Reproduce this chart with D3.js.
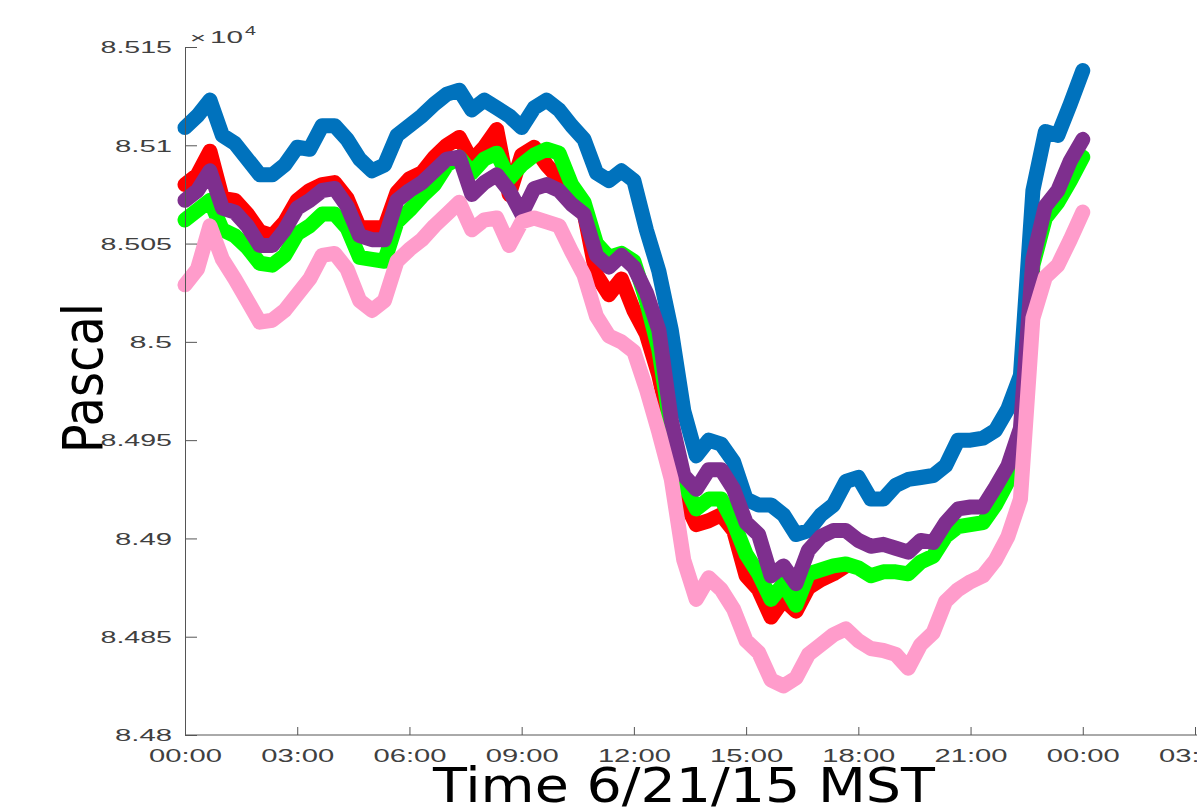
<!DOCTYPE html>
<html>
<head>
<meta charset="utf-8">
<script src="https://cdn.jsdelivr.net/npm/d3@7"></script>
<style>
  body { margin: 0; background: #fff; }
  svg { display: block; }
  .axis path, .axis line { stroke: #555; stroke-width: 1; }
  .axis text { font-family: "Liberation Sans", Arial, sans-serif; fill: #404040; }
  .series { fill: none; stroke-linejoin: round; stroke-linecap: round; }
</style>
</head>
<body>
<div id="chart"></div>
<script>
// readings every 20 minutes from 00:00 to 24:00, pressure in Pa
var hours = d3.range(0, 73).map(function(i) { return i / 3; });

var blue = [85109,85115,85123,85105,85101,85093,85085,85085,85090,85099,
    85098,85110,85110,85103,85093,85087,85090,85105,85110,85115,
    85121,85126,85128,85118,85123,85119,85115,85109,85119,85123,
    85118,85110,85103,85086,85082,85087,85082,85057,85036,85006,
    84965,84942,84950,84948,84939,84920,84917,84917,84912,84902,
    84904,84912,84917,84929,84931,84920,84920,84927,84930,84931,
    84932,84937,84950,84950,84951,84955,84966,84983,85077,85107,
    85105,85121,85138];

// the red logger is hidden under the green one after ~18:00
var red = [85080,85085,85097,85073,85072,85065,85056,85054,85061,85072,
    85077,85080,85081,85073,85058,85058,85058,85076,85083,85086,
    85094,85100,85104,85092,85099,85108,85075,85095,85099,85090,
    85083,85072,85066,85034,85024,85032,85016,85004,84983,84954,
    84920,84907,84909,84912,84904,84881,84874,84860,84869,84863,
    84875,84879,84882,84886];

var green = [85062,85067,85072,85057,85054,85048,85040,85039,85044,85055,
    85059,85065,85065,85058,85043,85042,85041,85061,85067,85074,
    85080,85090,85094,85086,85093,85096,85083,85090,85095,85098,
    85096,85080,85071,85050,85043,85045,85041,85021,84996,84955,
    84928,84915,84920,84920,84908,84892,84882,84869,84877,84866,
    84882,84884,84886,84887,84885,84881,84883,84883,84882,84888,
    84891,84901,84906,84907,84908,84917,84929,84945,85039,85063,
    85071,85082,85094];

var purple = [85072,85077,85087,85068,85066,85059,85049,85049,85057,85068,
    85072,85077,85078,85069,85054,85052,85052,85072,85077,85081,
    85087,85093,85094,85075,85081,85085,85077,85065,85078,85080,
    85077,85070,85065,85044,85038,85044,85038,85025,85006,84960,
    84932,84925,84935,84935,84925,84908,84902,84881,84886,84877,
    84894,84901,84904,84904,84899,84896,84897,84895,84893,84899,
    84898,84908,84915,84916,84916,84926,84937,84956,85042,85069,
    85077,85092,85103];

var pink = [85029,85037,85059,85042,85032,85021,85010,85011,85016,85024,
    85032,85044,85045,85037,85021,85016,85021,85041,85047,85052,
    85059,85065,85071,85057,85062,85063,85049,85061,85063,85061,
    85059,85046,85034,85013,85003,85000,84995,84976,84954,84930,
    84889,84869,84880,84874,84864,84848,84842,84828,84825,84829,
    84841,84846,84851,84854,84848,84844,84843,84841,84834,84846,
    84852,84868,84874,84878,84881,84889,84901,84920,85012,85033,
    85039,85052,85066];

var seriesList = [
    {name: "blue", color: "#0072bd", values: blue},
    {name: "red", color: "#ff0000", values: red},
    {name: "green", color: "#00ff00", values: green},
    {name: "purple", color: "#7e2f8e", values: purple},
    {name: "pink", color: "#ff9ccb", values: pink}
];

var xTicks = [0, 3, 6, 9, 12, 15, 18, 21, 24, 27];
var xTickLabels = ["00:00", "03:00", "06:00", "09:00", "12:00", "15:00", "18:00", "21:00", "00:00", "03:00"];
var yTicks = [84800, 84850, 84900, 84950, 85000, 85050, 85100, 85150];

var width = 1197, height = 808;

var x = d3.scaleLinear().domain([0, 27]).range([185, 1195]);
var y = d3.scaleLinear().domain([84800, 85150]).range([735, 47]);

var svg = d3.select("#chart").append("svg")
    .attr("width", width)
    .attr("height", height);

var line = d3.line()
    .x(function(d, i) { return x(hours[i]); })
    .y(function(d) { return y(d); });

svg.selectAll(".series")
    .data(seriesList)
    .enter().append("path")
    .attr("class", "series")
    .attr("stroke", function(d) { return d.color; })
    .attr("stroke-width", 15)
    .attr("d", function(d) { return line(d.values); });

// axes, ticks pointing inward like the original; the picture is stretched sideways
var yAxis = svg.append("g")
    .attr("class", "axis")
    .attr("transform", "translate(185,0)")
    .call(d3.axisLeft(y)
        .tickValues(yTicks)
        .tickSizeInner(-12)
        .tickSizeOuter(0)
        .tickPadding(13)
        .tickFormat(function(v) { return String(+(v / 1e4).toFixed(4)); }));
yAxis.selectAll("text")
    .attr("dy", "0.36em")
    .attr("font-size", 16)
    .attr("lengthAdjust", "spacingAndGlyphs")
    .attr("textLength", function() { return this.textContent.length * 14.5 - 1; });

var xAxis = svg.append("g")
    .attr("class", "axis")
    .attr("transform", "translate(0,735)")
    .call(d3.axisBottom(x)
        .tickValues(xTicks)
        .tickSizeInner(-8)
        .tickSizeOuter(0)
        .tickFormat(function(d, i) { return xTickLabels[i]; }));
xAxis.selectAll("text")
    .attr("y", 27)
    .attr("dy", 0)
    .attr("font-size", 18)
    .attr("lengthAdjust", "spacingAndGlyphs")
    .attr("textLength", 73);
xAxis.select(".domain").attr("d", "M185,0H1197");

// exponent label
var expo = svg.append("g")
    .attr("font-family", "Liberation Sans, Arial, sans-serif")
    .attr("fill", "#404040");
expo.append("text")
    .attr("x", 190).attr("y", 43)
    .attr("font-size", 15)
    .attr("textLength", 16)
    .attr("lengthAdjust", "spacingAndGlyphs")
    .text("×");
expo.append("text")
    .attr("x", 210).attr("y", 43)
    .attr("font-size", 16)
    .attr("textLength", 33)
    .attr("lengthAdjust", "spacingAndGlyphs")
    .text("10");
expo.append("text")
    .attr("x", 245).attr("y", 35)
    .attr("font-size", 12)
    .attr("textLength", 11)
    .attr("lengthAdjust", "spacingAndGlyphs")
    .text("4");

svg.append("text")
    .attr("transform", "translate(102,378) scale(1.15,1) rotate(-90)")
    .attr("text-anchor", "middle")
    .attr("font-family", "DejaVu Sans, sans-serif")
    .attr("font-size", 48)
    .attr("fill", "#000")
    .text("Pascal");

svg.append("text")
    .attr("x", 433)
    .attr("y", 802)
    .attr("textLength", 502)
    .attr("lengthAdjust", "spacingAndGlyphs")
    .attr("font-family", "DejaVu Sans, sans-serif")
    .attr("font-size", 48)
    .attr("fill", "#000")
    .text("Time 6/21/15 MST");
</script>
</body>
</html>
